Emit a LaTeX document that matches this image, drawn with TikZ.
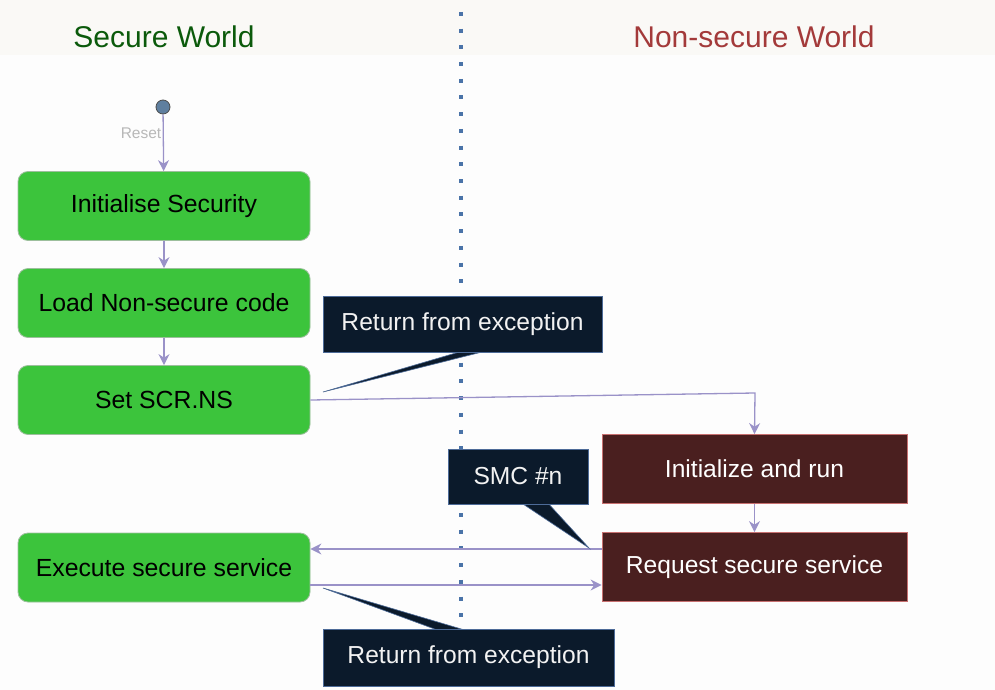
\documentclass[tikz,border=0pt]{standalone}
\usepackage{fontspec}
\setmainfont{Liberation Sans}
\usetikzlibrary{arrows.meta}
\definecolor{bgtop}{HTML}{FAF9F6}
\definecolor{bgmain}{HTML}{FDFDFD}
\definecolor{sgreen}{HTML}{3CC43C}
\definecolor{sgreenb}{HTML}{9DBF9D}
\definecolor{nsred}{HTML}{4A1F1F}
\definecolor{nsredb}{HTML}{C87070}
\definecolor{callfill}{HTML}{0B1A2B}
\definecolor{callb}{HTML}{4D6B98}
\definecolor{arrowc}{HTML}{9A92C8}
\definecolor{dotc}{HTML}{4A73A8}
\definecolor{titleg}{HTML}{0B5A0B}
\definecolor{titler}{HTML}{A33A3A}
\definecolor{startc}{HTML}{5F7F9F}
\begin{document}
\begin{tikzpicture}[x=1pt,y=-1pt,
  secbox/.style={draw=sgreenb,line width=0.8pt,fill=sgreen,rounded corners=10pt,minimum width=292pt,minimum height=69pt,inner sep=0pt,font=\fontsize{24.8}{28}\selectfont,text=black},
  nsbox/.style={draw=nsredb,line width=0.8pt,fill=nsred,minimum width=305pt,minimum height=69pt,inner sep=0pt,font=\fontsize{24.6}{28}\selectfont,text=white},
  callbox/.style={draw=callb,line width=0.8pt,fill=callfill,inner sep=0pt,font=\fontsize{24.6}{28}\selectfont,text=white!95!black},
  callptr/.style={fill=callfill,draw=callb,line width=0.6pt,line join=miter},
  flow/.style={draw=arrowc,line width=1.3pt,-{Stealth[length=11pt,width=11pt]}},
  title/.style={font=\fontsize{30}{34}\selectfont}
]
\useasboundingbox (0,0) rectangle (995,690);
\fill[bgmain] (0,0) rectangle (995,690);
\fill[bgtop] (0,0) rectangle (995,55);

% divider
\draw[dotc,line width=4pt,dash pattern=on 4pt off 12.7pt] (461,12) -- (461,640);

% titles
\node[title,text=titleg] (tsec) at (164,37) {Secure World};
\node[title,text=titler] (tns) at (754,37) {Non-secure World};

% start
\node[circle,draw=black!70,fill=startc,line width=0.8pt,minimum size=14pt,inner sep=0pt] (start) at (163,107) {};
\node[text=black!28,font=\fontsize{15.5}{17}\selectfont] (reset) at (141,133) {Reset};

% secure boxes
\node[secbox] (init) at (164,206) {Initialise Security};
\node[secbox] (load) at (164,303) {Load Non-secure code};
\node[secbox] (scr)  at (164,400) {Set SCR.NS};
\node[secbox] (exec) at (164,567.5) {Execute secure service};

% non-secure boxes
\node[nsbox] (initrun) at (754.5,469) {Initialize and run};
\node[nsbox] (req)     at (754.5,567) {Request secure service};

% connectors
\draw[flow] (start) -- (init);
\draw[flow] (init) -- (load);
\draw[flow] (load) -- (scr);
\draw[flow] (scr.east) -- (755,393) -- (initrun.north);
\draw[flow] (initrun) -- (req);
\draw[flow] (req.west |- 0,549) -- (exec.east |- 0,549);
\draw[flow] (exec.east |- 0,585) -- (req.west |- 0,585);

% callouts
\coordinate (tip1) at (323,392);
\draw[callptr] (466,350) -- (tip1) -- (490,350) -- cycle;
\node[callbox,minimum width=279pt,minimum height=56pt] (ret1) at (462.5,324) {Return from exception};

\coordinate (tip2) at (589,548);
\draw[callptr] (520,502) -- (tip2) -- (547,502) -- cycle;
\node[callbox,minimum width=140pt,minimum height=55pt] (smc) at (518,476.5) {SMC \#n};

\coordinate (tip3) at (323,588);
\draw[callptr] (440,631) -- (tip3) -- (468,631) -- cycle;
\node[callbox,minimum width=291pt,minimum height=57pt] (ret2) at (468.5,657.5) {Return from exception};
\end{tikzpicture}
\end{document}
